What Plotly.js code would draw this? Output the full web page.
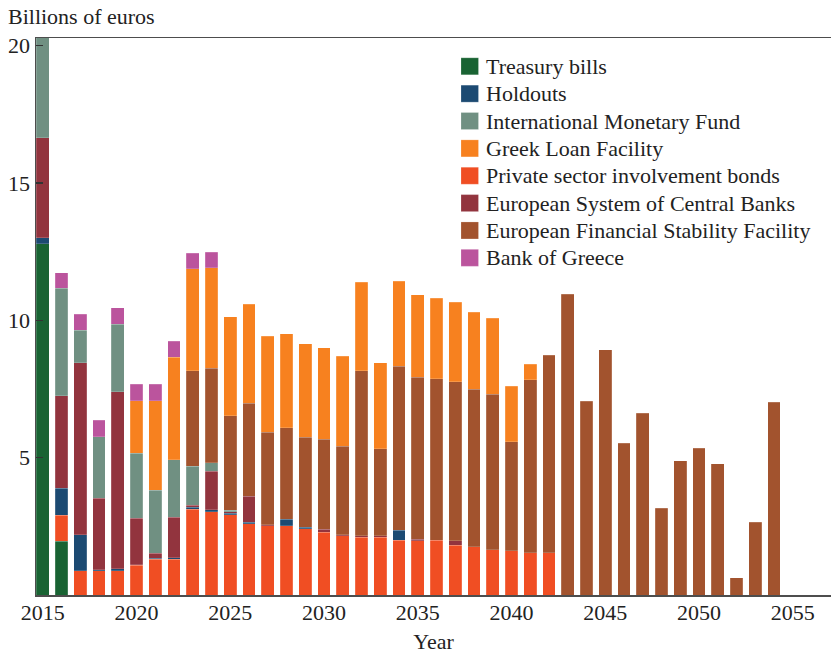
<!DOCTYPE html>
<html>
<head>
<meta charset="utf-8">
<script src="https://cdn.plot.ly/plotly-3.0.1.min.js"></script>
<style>html,body{margin:0;padding:0;background:#fff}#chart{width:831px;height:654px}</style>
</head>
<body>
<div id="chart"></div>
<script>
// ---- data (billions of euros) ----
const years = [2015,2016,2017,2018,2019,2020,2021,2022,2023,2024,
               2025,2026,2027,2028,2029,2030,2031,2032,2033,2034,
               2035,2036,2037,2038,2039,2040,2041,2042,2043,2044,
               2045,2046,2047,2048,2049,2050,2051,2052,2053,2054];

const treasuryBills = [12.78,1.96,0,0,0,0,0,0,0,0, 0,0,0,0,0,0,0,0,0,0, 0,0,0,0,0,0,0,0,0,0, 0,0,0,0,0,0,0,0,0,0];
const psiBonds      = [0,0.95,0.88,0.89,0.89,1.08,1.30,1.31,3.12,3.03, 2.93,2.60,2.52,2.52,2.42,2.28,2.16,2.10,2.10,2.00, 1.98,2.00,1.82,1.75,1.64,1.61,1.54,1.54,0,0, 0,0,0,0,0,0,0,0,0,0];
const holdouts      = [0.22,0.98,1.31,0.03,0.06,0.03,0.03,0.04,0.07,0.07, 0.04,0.05,0,0.24,0.04,0,0,0,0,0.35, 0,0,0,0,0,0,0,0,0,0, 0,0,0,0,0,0,0,0,0,0];
const escb          = [3.64,3.37,6.26,2.60,6.45,1.68,0.19,1.49,0.08,1.40, 0.07,0.95,0.04,0,0,0.11,0.04,0.06,0.06,0, 0.05,0,0.15,0,0,0,0,0,0,0, 0,0,0,0,0,0,0,0,0,0];
const imf           = [3.75,3.90,1.19,2.24,2.45,2.37,2.30,2.09,1.41,0.32, 0.05,0,0,0,0,0,0,0,0,0, 0,0,0,0,0,0,0,0,0,0, 0,0,0,0,0,0,0,0,0,0];
const efsf          = [0,0,0,0,0,0,0,0,3.48,3.43, 3.44,3.39,3.36,3.33,3.28,3.28,3.21,6.01,3.17,5.97, 5.90,5.87,5.80,5.74,5.67,3.97,6.29,7.19,10.95,7.05, 8.93,5.52,6.62,3.16,4.89,5.34,4.77,0.62,2.65,7.02];
const greekLoanFacility = [0,0,0,0,0,1.92,3.26,3.73,3.72,3.66, 3.61,3.59,3.50,3.43,3.40,3.33,3.28,3.22,3.13,3.10, 3.00,2.93,2.88,2.80,2.77,2.02,0.58,0,0,0, 0,0,0,0,0,0,0,0,0,0];
const bankOfGreece  = [0,0.58,0.58,0.60,0.60,0.59,0.59,0.58,0.57,0.57, 0,0,0,0,0,0,0,0,0,0, 0,0,0,0,0,0,0,0,0,0, 0,0,0,0,0,0,0,0,0,0];

const xTickVals = [2015,2020,2025,2030,2035,2040,2045,2050,2055];
const xTickText = ['2015','2020','2025','2030','2035','2040','2045','2050','2055'];
const yTickVals = [5,10,15,20];
const yTickText = ['5','10','15','20'];

// stacking order, bottom to top
const stackSeries = [
  {name:'Treasury bills', values:treasuryBills, color:'#196333'},
  {name:'Private sector involvement bonds', values:psiBonds, color:'#f04e23'},
  {name:'Holdouts', values:holdouts, color:'#1c4a72'},
  {name:'European System of Central Banks', values:escb, color:'#92343e'},
  {name:'International Monetary Fund', values:imf, color:'#709082'},
  {name:'European Financial Stability Facility', values:efsf, color:'#a2532e'},
  {name:'Greek Loan Facility', values:greekLoanFacility, color:'#f7811f'},
  {name:'Bank of Greece', values:bankOfGreece, color:'#bb549d'}
];
const legendOrder = ['Treasury bills','Holdouts','International Monetary Fund','Greek Loan Facility',
  'Private sector involvement bonds','European System of Central Banks',
  'European Financial Stability Facility','Bank of Greece'];

const FONT = 'Liberation Serif, Times New Roman, serif';
const FIG_W = 831, FIG_H = 654;
const M = {l:36, r:0, t:38, b:59};
const plotW = FIG_W - M.l - M.r, plotH = FIG_H - M.t - M.b;

const traces = stackSeries.map(s => ({
  type:'bar', name:s.name, x:years,
  y:s.values.map(v => v === 0 ? null : v),
  marker:{color:s.color, line:{color:'rgba(255,255,255,0.35)', width:0.5}},
  hovertemplate:'%{x}: %{y}<extra>'+s.name+'</extra>'
}));

// manual legend (pixel layout converted to paper coords)
const px2x = p => (p - M.l) / plotW;
const px2y = p => (FIG_H - M.b - p) / plotH;
const shapes = [], annotations = [];
legendOrder.forEach((nm, i) => {
  const s = stackSeries.find(d => d.name === nm);
  const cy = 66.3 + i * 27.36;
  shapes.push({type:'rect', xref:'paper', yref:'paper',
    x0:px2x(461), x1:px2x(478.5), y0:px2y(cy + 8.5), y1:px2y(cy - 8.5),
    fillcolor:s.color, line:{width:0.5, color:'rgba(255,255,255,0.4)'}});
  annotations.push({xref:'paper', yref:'paper', x:px2x(484), y:px2y(cy),
    xanchor:'left', yanchor:'middle', showarrow:false, text:nm,
    font:{family:FONT, size:22, color:'#222'}});
});

const axisLine = {showline:true, linecolor:'#4d4d4d', linewidth:1.5, mirror:true,
  showgrid:false, zeroline:false};

const layout = {
  width:FIG_W, height:FIG_H,
  margin:{l:M.l, r:M.r, t:M.t, b:M.b, pad:0},
  barmode:'stack', bargap:0.32,
  paper_bgcolor:'#ffffff', plot_bgcolor:'#ffffff',
  font:{family:FONT, size:22, color:'#222'},
  showlegend:false,
  title:{text:'Billions of euros', xref:'container', yref:'container',
    x:8/FIG_W, xanchor:'left', y:1 - 16/FIG_H, yanchor:'middle',
    font:{family:FONT, size:22, color:'#222'}},
  xaxis:Object.assign({range:[2014.643, 2057.04], tickmode:'array',
    tickvals:xTickVals, ticktext:xTickText, ticks:'', ticklabelstandoff:-3,
    tickfont:{family:FONT, size:22, color:'#222'},
    title:{text:'Year', standoff:9, font:{family:FONT, size:22, color:'#222'}}}, axisLine),
  yaxis:Object.assign({range:[0, 20.28], tickmode:'array',
    tickvals:yTickVals, ticktext:yTickText, ticks:'inside', ticklen:7,
    tickwidth:1.5, tickcolor:'#333',
    tickfont:{family:FONT, size:22, color:'#222'}}, axisLine),
  shapes:shapes, annotations:annotations
};

Plotly.newPlot('chart', traces, layout, {displayModeBar:false, staticPlot:true});
</script>
</body>
</html>
